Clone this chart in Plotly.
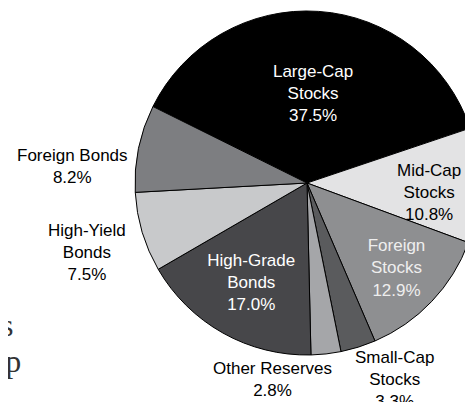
import plotly.graph_objects as go

categories = ["Large-Cap<br>Stocks", "Mid-Cap<br>Stocks", "Foreign<br>Stocks", "Small-Cap<br>Stocks",
              "Other Reserves", "High-Grade<br>Bonds", "High-Yield<br>Bonds", "Foreign Bonds"]
values = [37.5, 10.8, 12.9, 3.3, 2.8, 17.0, 7.5, 8.2]

colors = ["#000000", "#e3e3e4", "#8e8f91", "#5a5b5d", "#a5a6a9", "#47474a", "#c8c9cb", "#7d7e81"]
text_pos = ["inside", "none", "inside", "none", "none", "inside", "none", "none"]
text_colors = ["#ffffff", "#000000", "#eeeeee", "#000000", "#000000", "#ffffff", "#000000", "#000000"]

# the page body shifts the figure by 8px; positions below are given in window pixels
OFF = 8
manual_pos = {1: (429, 193), 3: (394, 379), 4: (272, 379), 6: (87, 253), 7: (72, 166)}

W, H = 473, 402
cx, cy, r = 307 - OFF, 183 - OFF, 172
FONT = "Liberation Sans, Arial, sans-serif"
FS = 17


def px_x(x):
    return (x - OFF) / W


def px_y(y):
    return 1 - (y - OFF) / H


fig = go.Figure(go.Pie(
    labels=categories,
    values=values,
    sort=False,
    direction="clockwise",
    rotation=-63.6,
    marker=dict(colors=colors, line=dict(color="#000000", width=1)),
    texttemplate="%{label}<br>%{value:.1f}%",
    textposition=text_pos,
    insidetextorientation="horizontal",
    textfont=dict(family=FONT, size=FS, color=text_colors),
    hoverinfo="label+percent",
    showlegend=False,
    domain=dict(x=[(cx - r) / W, min(1, (cx + r) / W)],
                y=[max(0, (H - (cy + r)) / H), min(1, (H - (cy - r)) / H)]),
))

for i, (px, py) in manual_pos.items():
    fig.add_annotation(x=px_x(px), y=px_y(py), xref="paper", yref="paper",
                       text=f"{categories[i]}<br>{values[i]:.1f}%",
                       showarrow=False, xanchor="center", yanchor="middle",
                       font=dict(family=FONT, size=FS, color=text_colors[i]))

fig.add_annotation(x=px_x(15), y=px_y(325), xref="paper", yref="paper", text="s",
                   showarrow=False, xanchor="right", yanchor="middle",
                   font=dict(family="Liberation Serif, serif", size=32, color="#333333"))
fig.add_annotation(x=px_x(23), y=px_y(361), xref="paper", yref="paper", text="ap",
                   showarrow=False, xanchor="right", yanchor="middle",
                   font=dict(family="Liberation Serif, serif", size=32, color="#333333"))

fig.update_layout(width=W, height=H, margin=dict(l=0, r=0, t=0, b=0),
                  paper_bgcolor="#ffffff", plot_bgcolor="#ffffff")

fig.write_html("out.html")
